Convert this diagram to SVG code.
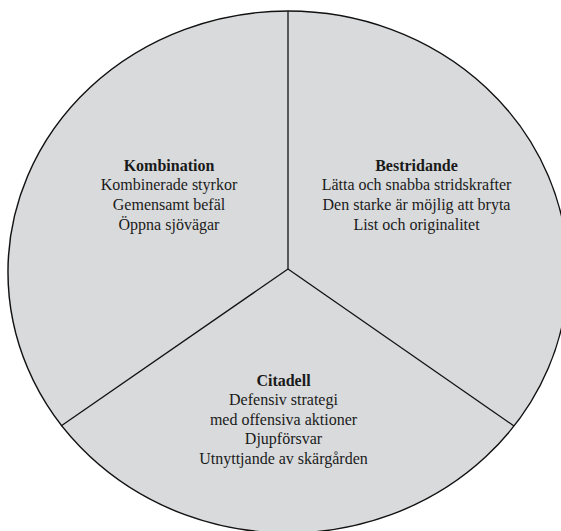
<svg xmlns="http://www.w3.org/2000/svg" width="561" height="531" viewBox="0 0 561 531">
  <style>
    .sector { fill: #d9dadc; stroke: none; }
    .outline { fill: none; stroke: #111; stroke-width: 1.4; }
    .spoke { stroke: #111; stroke-width: 1.3; fill: none; }
    text { font-family: "Liberation Serif", "Times New Roman", serif; font-size: 16px; fill: #1a1a1a; text-anchor: middle; }
    .title { font-weight: bold; }
  </style>
  <rect width="561" height="531" fill="#ffffff"/>
  <g id="kombination">
    <path class="sector" d="M288,269 L288,11 A280,261 0 0 0 61,426 Z"/>
    <text x="169" y="170.7" class="title">Kombination</text>
    <text x="169" y="190.3">Kombinerade styrkor</text>
    <text x="169" y="209.9">Gemensamt befäl</text>
    <text x="169" y="229.5">Öppna sjövägar</text>
  </g>
  <g id="bestridande">
    <path class="sector" d="M288,269 L288,11 A280,261 0 0 1 514,426 Z"/>
    <text x="416.5" y="170.7" class="title">Bestridande</text>
    <text x="416.5" y="190.3">Lätta och snabba stridskrafter</text>
    <text x="416.5" y="209.9">Den starke är möjlig att bryta</text>
    <text x="416.5" y="229.5">List och originalitet</text>
  </g>
  <g id="citadell">
    <path class="sector" d="M288,269 L61,426 A280,261 0 0 0 514,426 Z"/>
    <text x="283.5" y="385.5" class="title">Citadell</text>
    <text x="283.5" y="405.1">Defensiv strategi</text>
    <text x="283.5" y="424.7">med offensiva aktioner</text>
    <text x="283.5" y="444.3">Djupförsvar</text>
    <text x="283.5" y="463.9">Utnyttjande av skärgården</text>
  </g>
  <g id="connectors">
    <ellipse class="outline" cx="288" cy="272" rx="280" ry="261"/>
    <line class="spoke" x1="288" y1="269" x2="288" y2="11"/>
    <line class="spoke" x1="288" y1="269" x2="61" y2="426"/>
    <line class="spoke" x1="288" y1="269" x2="514" y2="426"/>
  </g>
</svg>
